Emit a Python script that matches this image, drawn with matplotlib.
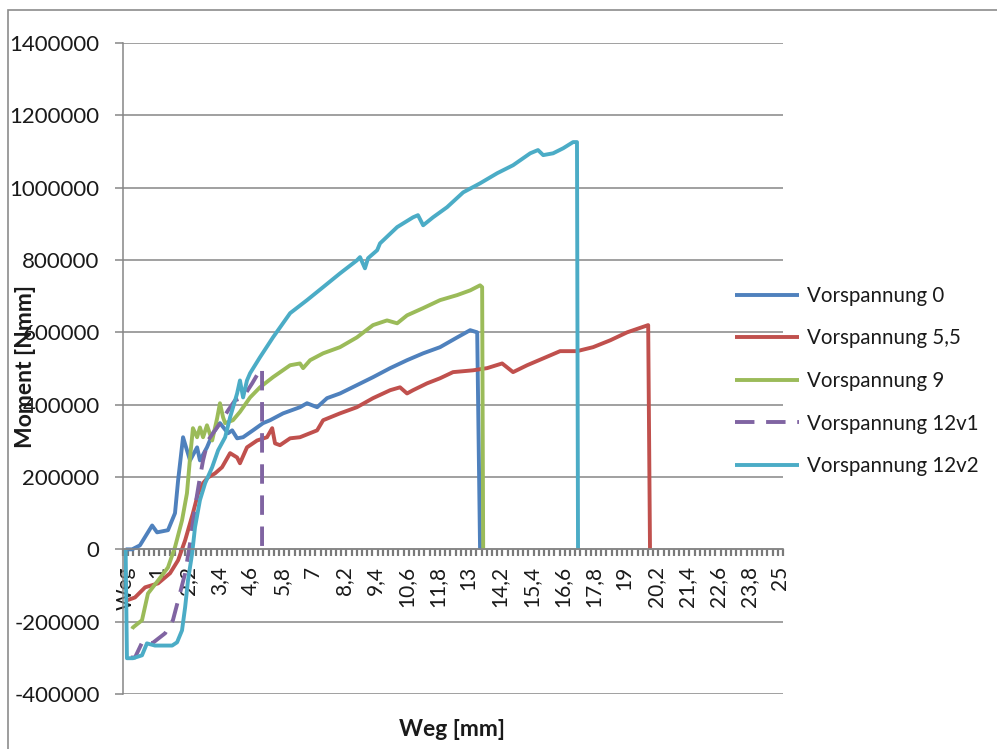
import matplotlib.pyplot as plt
import matplotlib.patches as mpatches
from matplotlib.ticker import FixedLocator
import numpy as np

plt.rcParams["font.family"] = ["Lato", "DejaVu Sans"]

# x tick labels of the category axis (every 6th category, 0.2 mm steps)
tick_labels = ["Weg", "1", "2,2", "3,4", "4,6", "5,8", "7", "8,2", "9,4", "10,6",
               "11,8", "13", "14,2", "15,4", "16,6", "17,8", "19", "20,2",
               "21,4", "22,6", "23,8", "25"]

# Weg [mm] / Moment [Nmm]
weg_v0 = [-0.2, 0.05, 0.35, 0.82, 1.01, 1.43, 1.70, 1.82, 2.01, 2.16, 2.28, 2.55,
          2.66, 2.93, 3.16, 3.43, 3.74, 3.90, 4.09, 4.32, 4.70, 5.09, 5.36, 5.86,
          6.51, 6.78, 7.17, 7.55, 8.05, 8.70, 9.32, 9.98, 10.63, 11.25, 11.90,
          12.56, 13.06, 13.33, 13.44]
mom_v0 = [0, 0, 11e3, 66e3, 47e3, 53e3, 100e3, 191e3, 310e3, 274e3, 246e3, 282e3,
          246e3, 282e3, 321e3, 349e3, 321e3, 329e3, 307e3, 310e3, 329e3, 349e3,
          357e3, 376e3, 393e3, 404e3, 393e3, 418e3, 431e3, 454e3, 476e3, 501e3,
          523e3, 542e3, 559e3, 586e3, 606e3, 600e3, 0]

weg_v55 = [-0.15, 0.16, 0.55, 1.05, 1.51, 1.82, 2.09, 2.39, 2.59, 2.78, 2.97, 3.24,
           3.51, 3.82, 4.09, 4.20, 4.47, 4.86, 5.24, 5.44, 5.55, 5.74, 6.13, 6.51,
           7.17, 7.40, 8.05, 8.70, 9.32, 9.98, 10.36, 10.63, 10.86, 11.40, 11.90,
           12.40, 13.17, 13.71, 14.29, 14.71, 15.25, 15.87, 16.52, 17.17, 17.79,
           18.45, 19.10, 19.91, 19.98]
mom_v55 = [-141e3, -133e3, -105e3, -94e3, -66e3, -30e3, 25e3, 100e3, 155e3, 183e3,
           199e3, 210e3, 227e3, 266e3, 254e3, 238e3, 282e3, 301e3, 310e3, 335e3,
           293e3, 288e3, 307e3, 310e3, 329e3, 357e3, 376e3, 393e3, 418e3, 440e3,
           448e3, 431e3, 440e3, 459e3, 473e3, 490e3, 495e3, 501e3, 514e3, 490e3,
           509e3, 528e3, 548e3, 548e3, 559e3, 578e3, 600e3, 620e3, 0]

weg_v9 = [0.05, 0.08, 0.43, 0.66, 1.05, 1.43, 1.70, 1.97, 2.16, 2.28, 2.39, 2.55,
          2.66, 2.78, 2.93, 3.13, 3.32, 3.43, 3.55, 3.63, 3.93, 4.20, 4.59, 4.97,
          5.47, 6.13, 6.51, 6.63, 6.90, 7.40, 8.05, 8.70, 9.32, 9.86, 10.25,
          10.63, 11.25, 11.90, 12.56, 13.06, 13.44, 13.52, 13.56]
mom_v9 = [-220e3, -216e3, -196e3, -122e3, -86e3, -50e3, 6e3, 80e3, 155e3, 254e3,
          335e3, 310e3, 337e3, 310e3, 343e3, 301e3, 362e3, 404e3, 365e3, 349e3,
          357e3, 380e3, 420e3, 448e3, 476e3, 509e3, 514e3, 501e3, 523e3, 542e3,
          559e3, 586e3, 620e3, 633e3, 625e3, 647e3, 667e3, 689e3, 703e3, 716e3,
          730e3, 725e3, 0]

weg_v12a = [0.0, 0.16, 0.47, 0.82, 1.32, 1.62, 1.89, 2.09, 2.28, 2.47, 2.66, 2.78,
            2.97, 3.24, 3.51, 3.74, 4.01, 4.32, 4.67, 4.90, 5.05, 5.05]
mom_v12a = [-299e3, -299e3, -252e3, -260e3, -232e3, -196e3, -122e3, -66e3, 17e3,
            116e3, 199e3, 246e3, 301e3, 329e3, 357e3, 384e3, 412e3, 420e3, 459e3,
            487e3, 501e3, 0]

weg_v12b = [-0.2, -0.15, 0.08, 0.43, 0.62, 0.93, 1.59, 1.78, 1.97, 2.09, 2.20, 2.36,
            2.47, 2.66, 2.86, 3.13, 3.36, 3.63, 3.82, 4.09, 4.20, 4.32, 4.47, 4.59,
            4.97, 5.47, 6.13, 6.78, 7.40, 8.05, 8.70, 8.82, 9.01, 9.13, 9.48, 9.59,
            10.25, 10.86, 11.05, 11.25, 11.63, 12.17, 12.79, 13.44, 14.10, 14.71,
            15.37, 15.67, 15.87, 16.25, 16.64, 17.02, 17.17, 17.21]
mom_v12b = [0, -301e3, -301e3, -293e3, -260e3, -266e3, -266e3, -257e3, -224e3,
            -160e3, -86e3, -11e3, 61e3, 136e3, 183e3, 227e3, 274e3, 310e3, 365e3,
            431e3, 467e3, 420e3, 467e3, 487e3, 531e3, 586e3, 653e3, 689e3, 725e3,
            763e3, 799e3, 808e3, 777e3, 805e3, 827e3, 846e3, 891e3, 918e3, 924e3,
            896e3, 918e3, 946e3, 987e3, 1012e3, 1040e3, 1062e3, 1095e3, 1104e3,
            1090e3, 1095e3, 1109e3, 1126e3, 1126e3, 0]

series = [
    ("Vorspannung 0", weg_v0, mom_v0, "#4F81BD", "-"),
    ("Vorspannung 5,5", weg_v55, mom_v55, "#C0504D", "-"),
    ("Vorspannung 9", weg_v9, mom_v9, "#9BBB59", "-"),
    ("Vorspannung 12v1", weg_v12a, mom_v12a, "#8064A2", "--"),
    ("Vorspannung 12v2", weg_v12b, mom_v12b, "#4BACC6", "-"),
]

grey = "#868686"
txt = "#1a1a1a"
fig = plt.figure(figsize=(9.97, 7.49), dpi=100)
ax = fig.add_axes([0.1234, 0.0734, 0.662, 0.8692])

# spines first: moving a spine resets the ticks
for s in ["top", "right"]:
    ax.spines[s].set_visible(False)
ax.spines["bottom"].set_position(("data", 0))
ax.spines["bottom"].set_color(grey)
ax.spines["bottom"].set_linewidth(1.2)
ax.spines["left"].set_color(grey)
ax.spines["left"].set_linewidth(1.1)

for name, x, y, col, ls in series:
    line, = ax.plot(x, y, color=col, lw=2.8, label=name, solid_joinstyle="round",
                    solid_capstyle="butt")
    if ls == "--":
        line.set_dashes((5, 3))

ax.set_ylim(-400000, 1400000)
ax.set_xlim(-0.3, 25.1)
ax.set_yticks(np.arange(-400000, 1400001, 200000))
ax.yaxis.set_major_formatter(plt.FuncFormatter(lambda v, p: f"{int(v)}"))
ax.grid(axis="y", color=grey, lw=1.1)
ax.set_axisbelow(True)

# one small tick per 0.2 mm category, a label every 6th category
ax.set_xticks(-0.2 + 1.2 * np.arange(len(tick_labels)), tick_labels)
ax.xaxis.set_minor_locator(FixedLocator(-0.3 + 0.2 * np.arange(128)))
ax.tick_params(axis="x", which="major", length=0, pad=12, labelrotation=90,
               labelsize=15, labelcolor=txt)
ax.tick_params(axis="x", which="minor", length=5, width=1.6, color="#7a7a7a",
               direction="out", bottom=True)
ax.tick_params(axis="y", length=5.8, width=1.1, color=grey, labelsize=16, pad=11,
               labelcolor=txt)

fig.text(26 / 997, 1 - 367 / 749, "Moment [Nmm]", rotation=90, fontsize=16.5,
         fontweight="bold", ha="center", va="center", color=txt)
fig.text(452 / 997, 1 - 730 / 749, "Weg [mm]", fontsize=16.5, fontweight="bold",
         ha="center", va="center", color=txt)

ax.legend(loc="center left", bbox_to_anchor=(735 / 997, 1 - 381 / 749),
          bbox_transform=fig.transFigure, frameon=False, fontsize=14.8,
          handlelength=3.1, handletextpad=0.4, labelspacing=1.1,
          borderpad=0, borderaxespad=0, labelcolor=txt)

# outer chart frame
fig.patches.append(mpatches.Rectangle((8 / 997, -0.1), 1.2, 0.1 + 1 - 10 / 749,
                                      transform=fig.transFigure, fill=False,
                                      edgecolor="#8c8c8c", lw=1.2))

fig.savefig("out.png", dpi=100)
